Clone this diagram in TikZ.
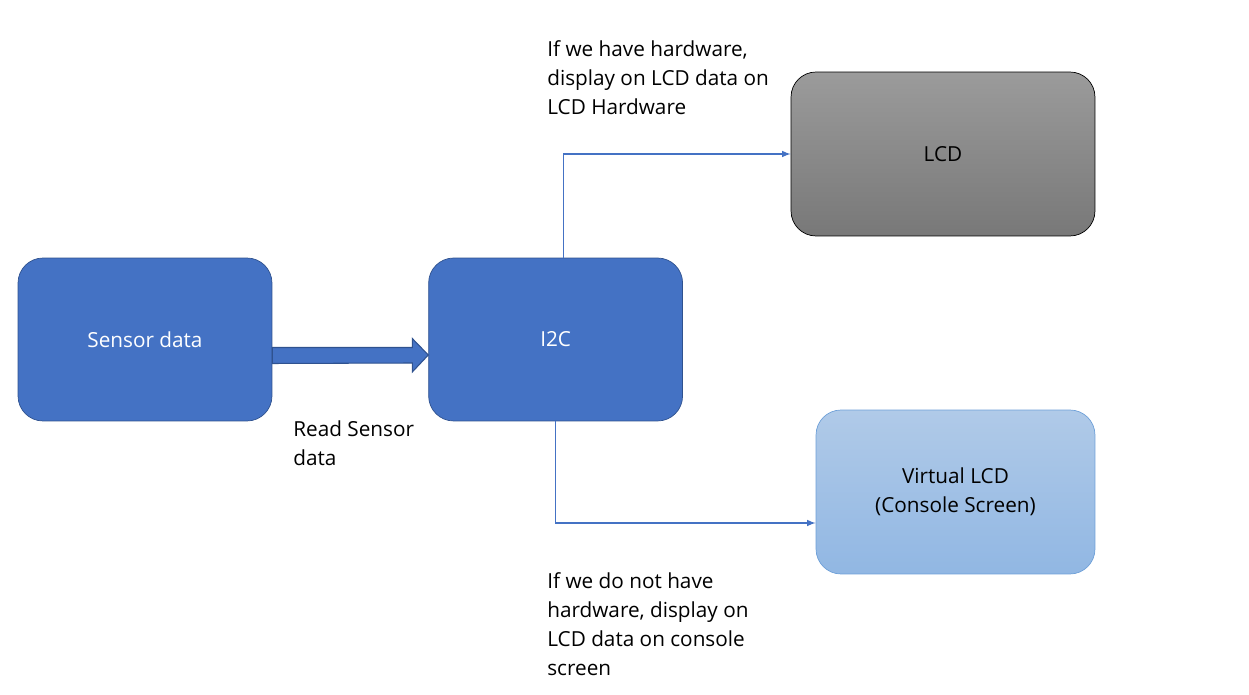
\documentclass[tikz,border=0pt]{standalone}
\usepackage{xcolor}
\usepackage{fontspec}
\setmainfont{Open Sans}
\usepackage{tikz}
\usetikzlibrary{shapes,arrows,positioning,fit,calc}

\definecolor{blockblue}{RGB}{68,114,196}
\definecolor{blockedge}{RGB}{47,82,143}
\definecolor{lcdtop}{RGB}{155,155,155}
\definecolor{lcdbottom}{RGB}{120,120,120}
\definecolor{vlcdtop}{RGB}{176,202,232}
\definecolor{vlcdbottom}{RGB}{145,183,227}
\definecolor{vlcdedge}{RGB}{110,160,216}

\begin{document}
\begin{tikzpicture}[x=0.02cm, y=-0.02cm, node distance=3.12cm, font=\fontsize{11.8}{16.5}\selectfont]
    \useasboundingbox (0,0) rectangle (1249,695);

    \node (sensor) [rectangle, draw=blockedge, fill=blockblue, text=white, rounded corners=0.5cm, minimum width=5.08cm, minimum height=3.26cm] at (145,339.5) {Sensor data};
    \node (i2c) [rectangle, draw=blockedge, fill=blockblue, text=white, rounded corners=0.5cm, minimum width=5.08cm, minimum height=3.26cm, right=of sensor] {I2C};
    \node (lcd) [rectangle, draw=black, top color=lcdtop, bottom color=lcdbottom, rounded corners=0.5cm, minimum width=6.08cm, minimum height=3.28cm] at (943,154) {LCD};
    \node (vlcd) [rectangle, draw=vlcdedge, top color=vlcdtop, bottom color=vlcdbottom, rounded corners=0.5cm, minimum width=5.58cm, minimum height=3.28cm, align=center] at (955.5,492) {Virtual LCD\\(Console Screen)};

    \node (hwnote) [anchor=north west, align=left, inner sep=0pt] at (547,40) {If we have hardware,\\display on LCD data on\\LCD Hardware};
    \node (readnote) [anchor=north west, align=left, inner sep=0pt] at (293,420) {Read Sensor\\data};
    \node (nohwnote) [anchor=north west, align=left, inner sep=0pt] at (547,572) {If we do not have\\hardware, display on\\LCD data on console\\screen};

    % thick arrow from sensor to i2c
    \draw [draw=blockedge, fill=blockblue, line width=0.6pt] ($(sensor.east)+(0,8)$) -- ($(i2c.west)+(-16,8)$) -- ++(0,-9) -- ($(i2c.west)+(0,15.5)$) -- ++(-16,17) -- ++(0,-9) -- ($(sensor.east)+(0,24)$) -- cycle;

    \draw [-latex, draw=blockblue, line width=0.7pt] ($(i2c.north)+(8,0)$) |- (lcd.west);
    \draw [-latex, draw=blockblue, line width=0.7pt] (i2c.south) |- ($(vlcd.west)+(0,31)$);
\end{tikzpicture}
\end{document}
